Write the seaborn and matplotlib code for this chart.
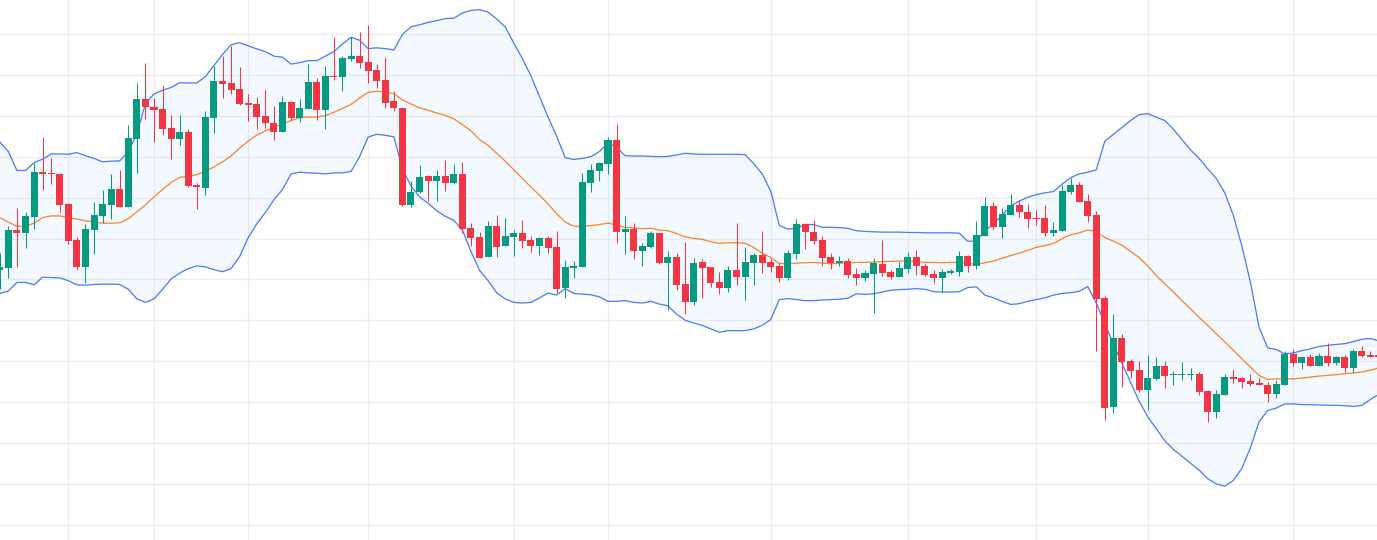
import numpy as np
import pandas as pd
import seaborn as sns
import matplotlib.pyplot as plt

sns.set_theme(style="white")

# OHLC values, one per bar (arbitrary price units)
opens = [835, 843, 952, 944, 991, 1121, 1118, 1115, 1028, 923,
         845, 953, 993, 1026, 1071, 1019, 1216, 1333, 1309, 1303,
         1248, 1216, 1237, 1083, 1075, 1277, 1385, 1379, 1362, 1321,
         1318, 1283, 1263, 1238, 1324, 1278, 1303, 1382, 1301, 1400,
         1397, 1450, 1457, 1440, 1417, 1388, 1327, 1306, 1025, 1062,
         1108, 1093, 1108, 1089, 1115, 958, 932, 875, 964, 907,
         933, 943, 923, 907, 929, 903, 784, 843, 846, 1090,
         1123, 1145, 1213, 947, 955, 892, 903, 943, 856, 874,
         795, 744, 859, 845, 801, 785, 836, 817, 857, 880,
         859, 849, 814, 882, 970, 947, 923, 874, 857, 862,
         824, 814, 824, 853, 830, 817, 839, 874, 848, 824,
         814, 827, 830, 877, 849, 936, 1022, 961, 996, 1025,
         1004, 987, 987, 943, 950, 1063, 1083, 1036, 996, 755,
         439, 639, 572, 547, 488, 519, 557, 530, 532, 532,
         534, 485, 423, 474, 525, 522, 514, 509, 503, 477,
         503, 592, 567, 583, 558, 586, 567, 583, 552, 601,
         589, 589]
closes = [845, 952, 944, 992, 1121, 1116, 1115, 1026, 921, 845,
          955, 996, 1028, 1071, 1019, 1219, 1333, 1309, 1302, 1245,
          1216, 1237, 1079, 1077, 1280, 1385, 1377, 1360, 1319, 1316,
          1281, 1264, 1238, 1324, 1277, 1306, 1382, 1301, 1399, 1397,
          1452, 1457, 1437, 1415, 1386, 1322, 1306, 1025, 1062, 1106,
          1093, 1108, 1090, 1115, 956, 930, 872, 964, 904, 935,
          943, 921, 907, 929, 901, 782, 845, 849, 1092, 1126,
          1148, 1213, 947, 955, 892, 906, 943, 856, 874, 793,
          744, 856, 843, 799, 785, 836, 817, 859, 880, 857,
          845, 814, 885, 970, 947, 921, 872, 857, 862, 822,
          814, 827, 856, 828, 817, 842, 874, 849, 822, 814,
          830, 833, 877, 849, 938, 1022, 961, 999, 1025, 1003,
          984, 983, 943, 952, 1065, 1083, 1033, 994, 753, 436,
          639, 570, 544, 488, 523, 557, 529, 535, 535, 535,
          483, 425, 476, 525, 519, 512, 506, 503, 477, 505,
          592, 567, 583, 558, 586, 567, 583, 552, 601, 587,
          584, 583]
highs = [885, 965, 1016, 1003, 1147, 1222, 1161, 1118, 1031, 932,
         970, 1033, 1068, 1115, 1126, 1257, 1379, 1437, 1335, 1373,
         1285, 1285, 1244, 1089, 1297, 1427, 1457, 1485, 1425, 1348,
         1338, 1362, 1313, 1341, 1327, 1333, 1434, 1394, 1428, 1513,
         1458, 1513, 1527, 1547, 1434, 1454, 1356, 1309, 1093, 1141,
         1112, 1126, 1155, 1144, 1150, 972, 946, 978, 996, 987,
         952, 981, 934, 932, 934, 949, 865, 862, 1118, 1144,
         1151, 1222, 1260, 993, 972, 914, 949, 943, 891, 885,
         917, 871, 868, 845, 830, 849, 972, 903, 885, 949,
         868, 855, 893, 984, 972, 981, 935, 885, 877, 871,
         842, 836, 871, 923, 836, 859, 888, 894, 853, 836,
         839, 839, 891, 880, 978, 1048, 1033, 1016, 1057, 1039,
         1028, 1010, 1024, 975, 1083, 1103, 1091, 1056, 1006, 761,
         709, 651, 578, 573, 590, 584, 572, 543, 569, 550,
         540, 488, 488, 535, 549, 525, 534, 523, 512, 518,
         601, 608, 584, 592, 595, 624, 586, 590, 607, 615,
         601, 595]
lows = [782, 814, 845, 900, 955, 1069, 1087, 1005, 912, 837,
        799, 883, 973, 985, 1019, 1019, 1118, 1275, 1209, 1229,
        1159, 1200, 1077, 1014, 1055, 1235, 1335, 1348, 1316, 1270,
        1246, 1248, 1214, 1238, 1273, 1267, 1303, 1273, 1246, 1389,
        1356, 1442, 1424, 1380, 1364, 1307, 1298, 1022, 1020, 1059,
        1037, 1037, 1065, 1087, 943, 907, 872, 875, 875, 907,
        878, 901, 889, 880, 886, 769, 756, 814, 846, 1063,
        1093, 1116, 915, 882, 869, 849, 901, 852, 721, 779,
        709, 735, 756, 788, 767, 773, 791, 750, 793, 828,
        831, 802, 808, 869, 898, 912, 849, 840, 849, 814,
        793, 805, 712, 820, 811, 817, 828, 822, 820, 799,
        771, 824, 820, 830, 839, 936, 953, 930, 996, 990,
        958, 968, 936, 936, 950, 1057, 1033, 975, 602, 400,
        422, 497, 523, 482, 430, 516, 494, 503, 518, 518,
        474, 394, 407, 472, 509, 494, 500, 503, 454, 465,
        503, 558, 549, 558, 558, 558, 560, 539, 541, 583,
        584, 580]

# Bollinger band values
bb_upper = [1208, 1180, 1125, 1125, 1148, 1158, 1173, 1173, 1172, 1177,
            1168, 1160, 1150, 1152, 1153, 1180, 1230, 1320, 1347, 1358,
            1366, 1380, 1379, 1379, 1398, 1430, 1462, 1490, 1496, 1487,
            1478, 1470, 1457, 1454, 1434, 1438, 1444, 1444, 1457, 1470,
            1492, 1512, 1503, 1479, 1481, 1479, 1475, 1520, 1542, 1548,
            1555, 1560, 1566, 1567, 1582, 1590, 1592, 1585, 1565, 1542,
            1495, 1450, 1400, 1340, 1280, 1225, 1162, 1157, 1160, 1165,
            1180, 1205, 1192, 1168, 1167, 1167, 1166, 1165, 1166, 1170,
            1175, 1173, 1172, 1172, 1172, 1172, 1172, 1171, 1145, 1115,
            1065, 965, 955, 957, 968, 968, 960, 960, 959, 957,
            950, 948, 947, 946, 946, 946, 945, 945, 944, 944,
            944, 944, 943, 920, 919, 950, 970, 995, 1022, 1036,
            1047, 1055, 1060, 1064, 1085, 1104, 1115, 1120, 1127, 1210,
            1230, 1250, 1270, 1287, 1290, 1280, 1270, 1245, 1215, 1185,
            1160, 1130, 1102, 1060, 995, 905, 800, 670, 610, 605,
            593, 595, 602, 607, 614, 617, 620, 622, 628, 635,
            637, 630]
bb_mid = [988, 975, 963, 963, 972, 988, 993, 993, 988, 984,
          979, 975, 972, 972, 973, 985, 1005, 1025, 1048, 1070,
          1090, 1105, 1108, 1113, 1123, 1135, 1150, 1167, 1190, 1210,
          1228, 1240, 1250, 1260, 1270, 1278, 1280, 1280, 1284, 1294,
          1305, 1317, 1335, 1352, 1355, 1352, 1348, 1330, 1318, 1307,
          1300, 1292, 1285, 1275, 1258, 1240, 1215, 1198, 1175, 1152,
          1127, 1102, 1077, 1053, 1028, 1000, 975, 963, 963, 965,
          968, 972, 967, 960, 958, 956, 957, 952, 950, 942,
          932, 928, 925, 918, 913, 915, 915, 914, 902, 885,
          872, 855, 855, 856, 857, 858, 856, 854, 856, 856,
          858, 858, 859, 860, 861, 862, 862, 861, 858, 858,
          857, 858, 858, 855, 852, 857, 862, 870, 878, 885,
          893, 902, 907, 913, 927, 938, 944, 952, 948, 930,
          920, 908, 890, 872, 848, 820, 796, 772, 747, 723,
          699, 675, 651, 627, 603, 578, 554, 530, 518, 520,
          520, 520, 522, 525, 528, 530, 532, 535, 537, 540,
          545, 552]
bb_lower = [768, 775, 800, 800, 793, 815, 814, 813, 805, 793,
            792, 794, 795, 795, 794, 780, 752, 742, 752, 780,
            810, 827, 840, 848, 845, 837, 831, 840, 875, 930,
            970, 1003, 1040, 1070, 1115, 1120, 1118, 1117, 1115, 1118,
            1118, 1122, 1165, 1222, 1230, 1227, 1223, 1130, 1080, 1048,
            1030, 1008, 992, 980, 952, 890, 835, 805, 770, 752,
            742, 740, 742, 755, 769, 763, 782, 768, 766, 764,
            758, 745, 745, 747, 742, 740, 745, 737, 732, 708,
            690, 682, 675, 665, 655, 660, 660, 660, 665, 675,
            692, 750, 753, 750, 747, 747, 749, 750, 751, 754,
            767, 765, 767, 772, 777, 779, 780, 782, 780, 773,
            772, 772, 773, 785, 787, 763, 755, 745, 736, 738,
            745, 750, 755, 763, 768, 770, 774, 788, 740, 680,
            620, 565, 510, 455, 410, 375, 340, 315, 295, 275,
            255, 230, 215, 208, 225, 260, 320, 395, 428, 435,
            447, 447, 445, 445, 444, 443, 443, 442, 440, 443,
            460, 475]

# bars where the vertical grid lines fall
period_starts = [8, 18, 29, 43, 60, 71, 90, 106, 121, 134, 151]

df = pd.DataFrame({"open": opens, "high": highs, "low": lows, "close": closes,
                   "upper": bb_upper, "mid": bb_mid, "lower": bb_lower})
df["bar"] = np.arange(len(df))

up_col = "#089981"
down_col = "#F23645"

fig = plt.figure(figsize=(13.77, 5.4), dpi=100)
ax = fig.add_axes([0, 0, 1, 1])

# light grid
for y in np.arange(97, 1530, 118.6):
    ax.axhline(y, color="#eeeeee", lw=0.9, zorder=0)
for x in period_starts:
    ax.axvline(x, color="#eeeeee", lw=0.9, zorder=0)

# bollinger bands
ax.fill_between(df["bar"], df["lower"], df["upper"], color="#2196F3", alpha=0.05, lw=0, zorder=1)
sns.lineplot(data=df, x="bar", y="upper", color="#2962FF", alpha=0.85, lw=0.9, legend=False, ax=ax, zorder=2)
sns.lineplot(data=df, x="bar", y="lower", color="#2962FF", alpha=0.85, lw=0.9, legend=False, ax=ax, zorder=2)
sns.lineplot(data=df, x="bar", y="mid", color="#FF6D00", alpha=0.85, lw=0.9, legend=False, ax=ax, zorder=2)

# candles
colors = np.where(df["close"] >= df["open"], up_col, down_col)
ax.vlines(df["bar"], df["low"], df["high"], colors=colors, lw=0.75, zorder=3)
body_bottom = np.minimum(df["open"], df["close"])
body_height = np.maximum((df["close"] - df["open"]).abs(), 3)
ax.bar(df["bar"], body_height, bottom=body_bottom, width=0.82, color=colors, lw=0, zorder=4)

ax.set_xlim(0.023, 160.77)
ax.set_ylim(52, 1620)
ax.set_axis_off()

fig.savefig("out.png", dpi=100)
